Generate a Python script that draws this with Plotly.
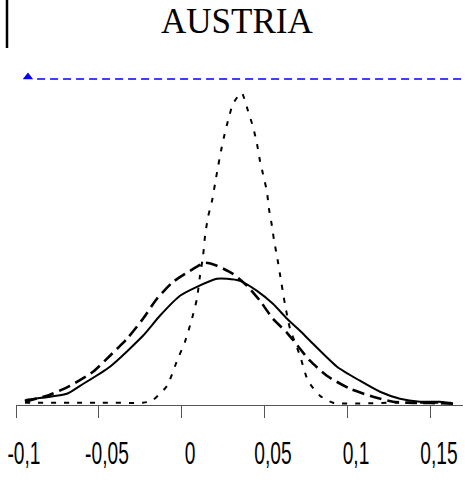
import plotly.graph_objects as go

# Kernel density estimates of growth rates, Austria
# solid curve
solid_x = [-0.0946, -0.0934, -0.0693, -0.0614, -0.0434, -0.0235, -0.0133, -0.0012,
           0.0090, 0.0211, 0.0271, 0.0349, 0.0452, 0.0548, 0.0633, 0.0711, 0.0771,
           0.0934, 0.1072, 0.1193, 0.1313, 0.1434, 0.1554, 0.1633]
solid_y = [0.23, 0.30, 0.77, 1.38, 2.85, 5.23, 6.77, 8.31,
           9.00, 9.62, 9.62, 9.46, 8.69, 7.69, 6.54, 5.62, 4.85,
           2.85, 1.77, 0.92, 0.38, 0.15, 0.15, 0.00]

# long-dashed curve
long_x = [-0.0946, -0.0795, -0.0675, -0.0536, -0.0434, -0.0331, -0.0235, -0.0151,
          -0.0054, 0.0048, 0.0139, 0.0211, 0.0307, 0.0392, 0.0470, 0.0548, 0.0633,
          0.0711, 0.0771, 0.0873, 0.1012, 0.1151, 0.1271, 0.1355, 0.1494, 0.1645]
long_y = [0.15, 0.69, 1.38, 2.46, 3.69, 5.00, 6.54, 8.08,
          9.38, 10.23, 10.85, 10.62, 10.00, 9.08, 7.92, 6.54, 5.46,
          4.23, 3.31, 2.15, 1.15, 0.54, 0.15, 0.08, 0.05, 0.00]

# short-dashed curve
short_x = [-0.0946, -0.0494, -0.0235, -0.0181, -0.0090, -0.0030, 0.0018, 0.0060,
           0.0090, 0.0108, 0.0127, 0.0139, 0.0157, 0.0181, 0.0199, 0.0217, 0.0235,
           0.0253, 0.0277, 0.0307, 0.0349, 0.0361, 0.0398, 0.0428, 0.0452, 0.0470,
           0.0488, 0.0512, 0.0524, 0.0542, 0.0554, 0.0572, 0.0590, 0.0620, 0.0651,
           0.0711, 0.0759, 0.0831, 0.0910, 0.1300, 0.1645]
short_y = [0.08, 0.08, 0.08, 0.23, 1.38, 3.31, 4.77, 6.54,
           8.08, 9.80, 11.38, 12.92, 14.38, 15.62, 16.92, 18.23, 19.46,
           20.54, 21.77, 23.08, 23.85, 23.92, 22.54, 21.31, 20.00, 18.69,
           17.69, 16.31, 15.00, 13.69, 12.62, 11.38, 10.00, 7.69, 5.77,
           3.69, 1.77, 0.62, 0.08, 0.08, 0.08]

# reference level
ref_x = [-0.0928, 0.1693]
ref_y = [25.0, 25.0]

tick_vals = [-0.1, -0.05, 0.0, 0.05, 0.1, 0.15]
tick_text = ["-0,1", "-0,05", "0", "0,05", "0,1", "0,15"]

fig = go.Figure()

fig.add_trace(go.Scatter(
    x=[ref_x[0] + 0.0055, ref_x[1]], y=ref_y, mode="lines",
    line=dict(color="#0000ff", width=1.6, dash="8px,5px"),
    hoverinfo="skip", showlegend=False))
fig.add_trace(go.Scatter(
    x=[ref_x[0]], y=[ref_y[0] + 0.15], mode="markers",
    marker=dict(symbol="triangle-up", size=9, color="#0000ff"),
    cliponaxis=False, showlegend=False))

fig.add_trace(go.Scatter(
    x=short_x, y=short_y, mode="lines",
    line=dict(color="black", width=2, dash="5px,8px", shape="spline", smoothing=0.6),
    showlegend=False))
fig.add_trace(go.Scatter(
    x=long_x, y=long_y, mode="lines",
    line=dict(color="black", width=2.6, dash="12px,6px", shape="spline", smoothing=0.6),
    showlegend=False))
fig.add_trace(go.Scatter(
    x=solid_x, y=solid_y, mode="lines",
    line=dict(color="black", width=2, shape="spline", smoothing=0.6),
    showlegend=False))

fig.add_annotation(
    text="AUSTRIA", xref="paper", yref="paper", x=(237 - 16) / 447, y=(405 - 21) / 339,
    xanchor="center", yanchor="middle", showarrow=False,
    font=dict(family="Liberation Serif, Times New Roman, serif", size=35, color="black"))

fig.add_shape(
    type="line", xref="paper", yref="paper",
    x0=(7 - 16) / 447, x1=(7 - 16) / 447, y0=(405 - 0) / 339, y1=(405 - 48) / 339,
    line=dict(color="black", width=2.5))

fig.update_layout(
    width=465, height=484,
    margin=dict(l=16, r=2, t=66, b=79),
    paper_bgcolor="white", plot_bgcolor="white",
    xaxis=dict(
        range=[-0.1, 0.1693], tickvals=tick_vals, ticktext=tick_text,
        showline=True, linecolor="#555555", linewidth=1,
        ticks="outside", ticklen=12, tickcolor="#555555", tickwidth=1,
        showgrid=False, zeroline=False, automargin=False,
        ticklabelstandoff=8, ticklabelshift=8, ticklabeloverflow="allow",
        tickfont=dict(family="Liberation Sans, Arial, sans-serif",
                      size=32, color="black")),
    yaxis=dict(range=[-0.1, 26.0], visible=False, showgrid=False, zeroline=False),
)

# Condensed tick labels: squeeze each label horizontally about its anchor
squeeze_js = """
var gd = document.getElementById('{plot_id}');
function squeezeTicks() {
  gd.querySelectorAll('.xtick text').forEach(function (t) {
    if (!t.dataset.base) { t.dataset.base = t.getAttribute('transform') || ''; }
    var x0 = parseFloat(t.getAttribute('x')) || 0;
    t.setAttribute('transform', t.dataset.base +
      ' translate(' + x0 + ',0) scale(0.6,1) translate(' + (-x0) + ',0)');
  });
}
squeezeTicks();
gd.on('plotly_afterplot', function () {
  gd.querySelectorAll('.xtick text').forEach(function (t) { delete t.dataset.base; });
  squeezeTicks();
});
"""

fig.write_html("out.html", post_script=squeeze_js)
